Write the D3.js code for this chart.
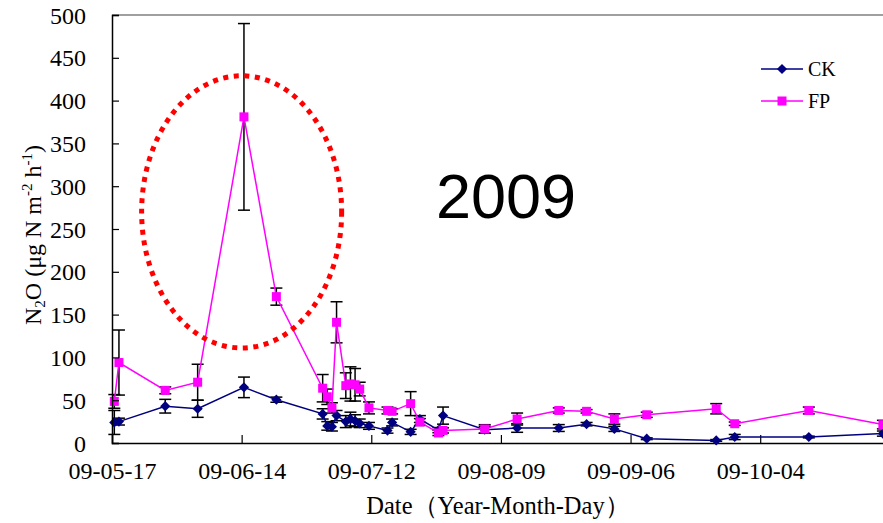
<!DOCTYPE html>
<html>
<head>
<meta charset="utf-8">
<script src="https://cdn.jsdelivr.net/npm/d3@7"></script>
<style>
  html, body { margin: 0; padding: 0; background: #fff; }
  svg { display: block; }
</style>
</head>
<body>
<svg id="chart" width="883" height="523"></svg>
<script>
// Sampling dates (2009)
const dates = [
  "2009-05-17","2009-05-18","2009-05-28","2009-06-04","2009-06-14","2009-06-21",
  "2009-07-01","2009-07-02","2009-07-03","2009-07-04","2009-07-06","2009-07-07",
  "2009-07-08","2009-07-09","2009-07-11","2009-07-15","2009-07-16","2009-07-20",
  "2009-07-22","2009-07-26","2009-07-27","2009-08-05","2009-08-12","2009-08-21",
  "2009-08-27","2009-09-02","2009-09-09","2009-09-24","2009-09-28","2009-10-14",
  "2009-10-30"
];

// N2O flux, control plots (CK)
const ckValues = [24, 25, 43, 40, 65, 50.6, 34, 20, 19, 32, 25, 28,
                  26, 23, 20, 14.5, 24, 13, 28, 15, 32, 15.5, 17.5, 17.5,
                  22, 16.5, 5, 3, 7, 7, 11];
const ckErrors = [14, 4, 8, 10, 12, 3, 6, 5, 5, 6, 7, 8,
                  7, 5, 4, 3, 4, 3, 4, 3, 10, 4, 5, 4,
                  2, 3, 1, 1, 3, 1, 3];

// N2O flux, fertilized plots (FP)
const fpValues = [48.6, 94, 61.5, 71, 381, 171, 64, 54, 41, 141, 67, 69,
                  68, 63, 41, 38, 37, 46, 24.5, 11.7, 14.7, 16.4, 28, 38,
                  37, 28, 33, 40, 22.5, 38, 21.5];
const fpErrors = [8, 38, 4, 21, 109, 10, 16, 9, 6, 24, 15, 20,
                  19, 8, 7, 4, 3, 14, 4, 3, 3, 5, 7, 3,
                  2, 6, 3, 6, 2, 4, 5];

// Axis ticks
const xTickDates = ["2009-05-17","2009-06-14","2009-07-12","2009-08-09","2009-09-06","2009-10-04"];
const yTicks = [0, 50, 100, 150, 200, 250, 300, 350, 400, 450, 500];

// Highlighted peak region (centre date, centre value, half-widths)
const highlightCentre = ["2009-06-14", 270];
const highlightHalfDays = 21.6;
const highlightHalfValue = 159;

const yearLabel = "2009";

const parse = d3.utcParse("%Y-%m-%d");
const DAY = 864e5;
const serif = "'Liberation Serif','Times New Roman',serif";

const svg = d3.select("#chart");

const x = d3.scaleUtc()
  .domain([parse("2009-05-17"), parse("2009-11-01")])
  .range([112, 112 + 168 * 4.63]);
const y = d3.scaleLinear().domain([0, 500]).range([443, 15]);

// points sit in the middle of their day slot
const xPt = s => x(new Date(parse(s).getTime() + DAY / 2));

const ck = dates.map((d, i) => ({ d, v: ckValues[i], e: ckErrors[i] }));
const fp = dates.map((d, i) => ({ d, v: fpValues[i], e: fpErrors[i] }));

svg.append("clipPath").attr("id", "plotClip")
  .append("rect").attr("x", 0).attr("y", 0).attr("width", 883).attr("height", 523);

const plot = svg.append("g").attr("clip-path", "url(#plotClip)");

// plot area top border
plot.append("line")
  .attr("x1", x.range()[0]).attr("x2", x.range()[1])
  .attr("y1", y(500)).attr("y2", y(500))
  .attr("stroke", "#808080").attr("stroke-width", 1.5);

// y axis
const yAxis = svg.append("g").attr("transform", `translate(${x.range()[0]},0)`)
  .call(d3.axisLeft(y).tickValues(yTicks).tickSize(-7).tickPadding(26).tickFormat(d3.format("d")));
yAxis.select(".domain").attr("stroke", "#000").attr("stroke-width", 1.5);
yAxis.selectAll(".tick line").attr("stroke", "#000").attr("stroke-width", 1.2);
yAxis.selectAll(".tick text")
  .attr("font-family", serif).attr("font-size", 24).attr("fill", "#000")
  .attr("dy", "0.34em");

// x axis
const xAxis = plot.append("g").attr("transform", `translate(0,${y(0)})`)
  .call(d3.axisBottom(x).tickValues(xTickDates.map(parse)).tickSize(-8).tickPadding(24)
    .tickFormat(d3.utcFormat("%y-%m-%d")));
xAxis.select(".domain").attr("stroke", "#000").attr("stroke-width", 1.5);
xAxis.selectAll(".tick line").attr("stroke", "#000").attr("stroke-width", 1.2);
xAxis.selectAll(".tick text")
  .attr("font-family", serif).attr("font-size", 24).attr("fill", "#000")
  .attr("dy", "0.5em");

// error bars
function errorBars(data) {
  const g = plot.append("g").attr("stroke", "#000").attr("stroke-width", 1.5).attr("fill", "none");
  data.forEach(p => {
    const cx = xPt(p.d), y1 = y(p.v + p.e), y2 = y(p.v - p.e);
    g.append("line").attr("x1", cx).attr("x2", cx).attr("y1", y1).attr("y2", y2);
    g.append("line").attr("x1", cx - 6).attr("x2", cx + 6).attr("y1", y1).attr("y2", y1);
    g.append("line").attr("x1", cx - 6).attr("x2", cx + 6).attr("y1", y2).attr("y2", y2);
  });
}
errorBars(ck);
errorBars(fp);

const line = d3.line().x(p => xPt(p.d)).y(p => y(p.v));

// CK series
plot.append("path").datum(ck).attr("d", line)
  .attr("fill", "none").attr("stroke", "#000080").attr("stroke-width", 1.5);
const diamond = d3.symbol().type(d3.symbolSquare).size(52);
plot.append("g").selectAll("path").data(ck).join("path")
  .attr("d", diamond())
  .attr("transform", p => `translate(${xPt(p.d)},${y(p.v)}) rotate(45)`)
  .attr("fill", "#000080");

// FP series
plot.append("path").datum(fp).attr("d", line)
  .attr("fill", "none").attr("stroke", "#FF00FF").attr("stroke-width", 1.5);
plot.append("g").selectAll("rect").data(fp).join("rect")
  .attr("x", p => xPt(p.d) - 4.5).attr("y", p => y(p.v) - 4.5)
  .attr("width", 9).attr("height", 9)
  .attr("fill", "#FF00FF");

// dotted ellipse around the June peak
const hc = parse(highlightCentre[0]);
const ex = x(hc);
const erx = x(new Date(hc.getTime() + highlightHalfDays * DAY)) - ex;
const ey = y(highlightCentre[1]);
const ery = y(highlightCentre[1] - highlightHalfValue) - ey;
svg.append("ellipse")
  .attr("cx", ex).attr("cy", ey).attr("rx", erx).attr("ry", ery)
  .attr("fill", "none").attr("stroke", "#FF0000")
  .attr("stroke-width", 5).attr("stroke-dasharray", "5 5.6");

// year label
svg.append("text")
  .attr("x", 506).attr("y", 218).attr("text-anchor", "middle")
  .attr("font-family", "'Liberation Sans',Arial,sans-serif").attr("font-size", 63)
  .attr("fill", "#000").text(yearLabel);

// legend
const legend = [
  { name: "CK", color: "#000080", shape: "diamond" },
  { name: "FP", color: "#FF00FF", shape: "square" }
];
legend.forEach((l, i) => {
  const ly = 69 + i * 32;
  svg.append("line").attr("x1", 761).attr("x2", 803).attr("y1", ly).attr("y2", ly)
    .attr("stroke", l.color).attr("stroke-width", 1.5);
  if (l.shape === "diamond") {
    svg.append("path").attr("d", diamond())
      .attr("transform", `translate(782,${ly}) rotate(45)`).attr("fill", l.color);
  } else {
    svg.append("rect").attr("x", 782 - 4.5).attr("y", ly - 4.5)
      .attr("width", 9).attr("height", 9).attr("fill", l.color);
  }
  svg.append("text").attr("x", 808).attr("y", ly + 7)
    .attr("font-family", serif).attr("font-size", 20).attr("fill", "#000").text(l.name);
});

// axis titles
svg.append("text")
  .attr("x", 498).attr("y", 514).attr("text-anchor", "middle")
  .attr("font-family", serif).attr("font-size", 24.5).attr("fill", "#000")
  .text("Date（Year-Month-Day）");

const yt = svg.append("text")
  .attr("transform", "translate(41,235) rotate(-90)")
  .attr("text-anchor", "middle")
  .attr("font-family", serif).attr("font-size", 24).attr("fill", "#000");
yt.append("tspan").text("N");
yt.append("tspan").attr("font-size", 15).attr("dy", 4).text("2");
yt.append("tspan").attr("dy", -4).text("O (μg N m");
yt.append("tspan").attr("font-size", 15).attr("dy", -9).text("-2");
yt.append("tspan").attr("dy", 9).text(" h");
yt.append("tspan").attr("font-size", 15).attr("dy", -9).text("-1");
yt.append("tspan").attr("dy", 9).text(")");
</script>
</body>
</html>
